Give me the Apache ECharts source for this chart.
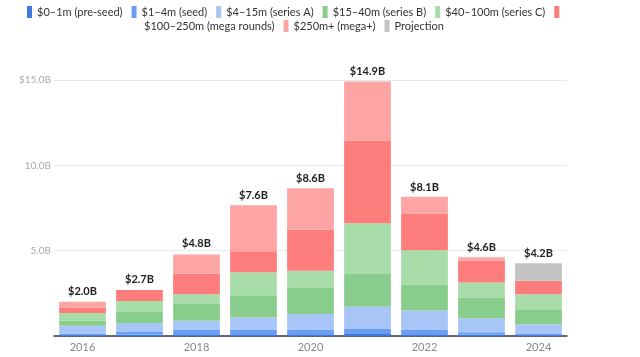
<!DOCTYPE html>
<html><head><meta charset="utf-8">
<script src="https://cdn.jsdelivr.net/npm/echarts@6/dist/echarts.min.js"></script>
<style>html,body{margin:0;padding:0;background:#fff}#c{width:640px;height:357px}</style>
</head><body><div id="c"></div>
<script>
const years = ['2016','2017','2018','2019','2020','2021','2022','2023','2024'];
const preSeed    = [0.05,0.08,0.10,0.10,0.10,0.12,0.10,0.07,0.04];
const seed       = [0.10,0.15,0.25,0.25,0.25,0.29,0.25,0.15,0.08];
const seriesA    = [0.45,0.53,0.55,0.73,0.94,1.31,1.14,0.82,0.57];
const seriesB    = [0.30,0.69,1.02,1.27,1.57,1.92,1.53,1.22,0.88];
const seriesC    = [0.45,0.60,0.53,1.39,0.96,2.96,2.00,0.88,0.88];
const megaRounds = [0.30,0.65,1.20,1.22,2.41,4.86,2.16,1.27,0.78];
const megaPlus   = [0.35,0.00,1.12,2.70,2.43,3.45,0.98,0.20,0.00];
const projection = [0,0,0,0,0,0,0,0,1.04];
const totals     = [2.0,2.7,4.8,7.6,8.6,14.9,8.1,4.6,4.2];
const yTicks = {0:'',5:'5.0B',10:'10.0B',15:'$15.0B'};

const names = ['$0–1m (pre-seed)','$1–4m (seed)','$4–15m (series A)','$15–40m (series B)','$40–100m (series C)','$100–250m (mega rounds)','$250m+ (mega+)','Projection'];
const colors = ['#3f78de','#6b9df2','#a8c5f8','#89cd8d','#a8dca9','#fd7c7c','#fda4a4','#c2c2c2'];
const datas = [preSeed,seed,seriesA,seriesB,seriesC,megaRounds,megaPlus,projection];
const font = 'Lato, "Noto Sans", sans-serif';

const series = datas.map((d,i)=>({
  name:names[i], type:'bar', stack:'t', data:d, barCategoryGap:'18%',
  itemStyle:{color:colors[i]}, emphasis:{disabled:true}
}));
series.push({
  name:'total', type:'line', data:totals, symbol:'circle', symbolSize:0, showSymbol:true,
  itemStyle:{color:'transparent'}, lineStyle:{width:0, color:'transparent'},
  label:{show:true, position:'top', distance:5, formatter:p=>'$'+p.value.toFixed(1)+'B',
    fontFamily:font, fontWeight:'bold', fontSize:11, color:'#222'},
  labelLayout:{hideOverlap:false},
  z:10, silent:true
});
const legendCommon = {icon:'rect', itemWidth:5, itemHeight:12, itemGap:9, padding:0, orient:'horizontal',
  textStyle:{fontFamily:font, fontSize:11, color:'#333'}, selectedMode:false};
const chart = echarts.init(document.getElementById('c'), null, {renderer:'canvas'});
chart.setOption({
  animation:false,
  color:colors,
  legend:[
    Object.assign({}, legendCommon, {top:6, left:27, width:600,
      data:names.slice(0,6), formatter:n=>n===names[5]?'':n}),
    Object.assign({}, legendCommon, {top:20, left:134, width:500,
      data:[{name:names[5], icon:'none'}, names[6], names[7]]})
  ],
  grid:{left:54, right:73, top:80, bottom:21},
  xAxis:{type:'category', data:years,
    axisLine:{lineStyle:{color:'#2d3a4e', width:1.5}}, axisTick:{show:false},
    axisLabel:{interval:1, color:'#888', fontFamily:font, fontSize:11, margin:6}},
  yAxis:{type:'value', min:0, max:15, interval:5,
    axisLine:{show:false}, axisTick:{show:false},
    splitLine:{lineStyle:{color:'#e9e9e9'}},
    axisLabel:{color:'#aaa', fontFamily:font, fontSize:10, margin:3, formatter:v=>yTicks[v]!==undefined?yTicks[v]:''}},
  series:series
});
</script></body></html>
